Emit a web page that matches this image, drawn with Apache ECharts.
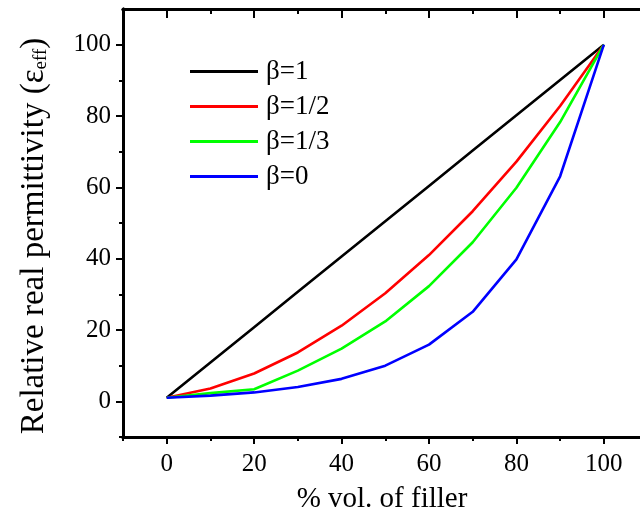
<!DOCTYPE html>
<html>
<head>
<meta charset="utf-8">
<script src="https://cdn.jsdelivr.net/npm/echarts@6/dist/echarts.min.js"></script>
<style>html,body{margin:0;padding:0;background:#fff}#c{width:640px;height:512px}</style>
</head>
<body>
<div id="c"></div>
<script>
const xValues = [0, 10, 20, 30, 40, 50, 60, 70, 80, 90, 100];
const beta1 = [1, 10.9, 20.8, 30.7, 40.6, 50.5, 60.4, 70.3, 80.2, 90.1, 100];
const betaHalf = [1, 3.6, 7.8, 13.7, 21.2, 30.3, 41, 53.3, 67.2, 82.8, 100];
const betaThird = [1, 2.3, 3.4, 8.6, 14.8, 22.4, 32.3, 44.6, 59.9, 78.3, 100];
const beta0 = [1, 1.6, 2.5, 4, 6.3, 10, 15.9, 25.1, 39.8, 63.1, 100];
const seriesNames = ['β=1', 'β=1/2', 'β=1/3', 'β=0'];
const seriesColors = ['#000000', '#ff0000', '#00ff00', '#0000ff'];
const xMajor = [0, 20, 40, 60, 80, 100];
const xMinor = [-10, 10, 30, 50, 70, 90];
const yMajor = [0, 20, 40, 60, 80, 100];
const yMinor = [-10, 10, 30, 50, 70, 90];

const FONT = 'Liberation Serif';
const allData = [beta1, betaHalf, betaThird, beta0];
const XMIN = -10, XMAX = 108.5, YMIN = -10, YMAX = 110;

function xAxisDef(pos, ticks, len, inside, labels, extra) {
  return Object.assign({
    type: 'value', position: pos, min: XMIN, max: XMAX,
    axisLine: { show: true, onZero: false, lineStyle: { color: '#000', width: 3 } },
    axisTick: { show: true, inside: inside, length: len, customValues: ticks, lineStyle: { color: '#000', width: 2 } },
    axisLabel: labels ? { show: true, customValues: xMajor, margin: 15, color: '#000', fontFamily: FONT, fontSize: 25 } : { show: false },
    splitLine: { show: false }
  }, extra || {});
}
function yAxisDef(pos, ticks, len, inside, labels, extra) {
  return Object.assign({
    type: 'value', position: pos, min: YMIN, max: YMAX,
    axisLine: { show: true, onZero: false, lineStyle: { color: '#000', width: 3 } },
    axisTick: { show: true, inside: inside, length: len, customValues: ticks, lineStyle: { color: '#000', width: 2 } },
    axisLabel: labels ? { show: true, customValues: yMajor, margin: 12, color: '#000', fontFamily: FONT, fontSize: 25 } : { show: false },
    splitLine: { show: false }
  }, extra || {});
}

const chart = echarts.init(document.getElementById('c'), null, { renderer: 'canvas' });
chart.setOption({
  animation: false,
  backgroundColor: '#fff',
  grid: { left: 123, top: 9, width: 518, height: 428, containLabel: false, outerBoundsMode: 'none' },
  legend: {
    orient: 'vertical', left: 185, top: 53,
    icon: 'rect', itemWidth: 68, itemHeight: 3, itemGap: 8,
    data: seriesNames,
    textStyle: { fontFamily: FONT, fontSize: 27, color: '#000', lineHeight: 26, padding: [0, 0, 0, 3] }
  },
  xAxis: [
    xAxisDef('bottom', xMajor, 7, false, true, {
      name: '% vol. of filler', nameLocation: 'middle', nameGap: 48,
      nameTextStyle: { fontFamily: FONT, fontSize: 29, color: '#000' }
    }),
    xAxisDef('bottom', xMinor, 4, false, false),
    xAxisDef('top', xMajor, 9, true, false),
    xAxisDef('top', xMinor, 5, true, false)
  ],
  yAxis: [
    yAxisDef('left', yMajor, 7, false, true, {
      name: 'Relative real permittivity (ε{sub|eff})', nameLocation: 'middle', nameGap: 72,
      nameTextStyle: { fontFamily: FONT, fontSize: 33, color: '#000', padding: [0, 26, 0, 0],
        rich: { sub: { fontFamily: FONT, fontSize: 19, color: '#000', verticalAlign: 'bottom', padding: [14, 0, 0, 0] } } }
    }),
    yAxisDef('left', yMinor, 4, false, false)
  ],
  series: seriesNames.map((n, i) => ({
    name: n, type: 'line', xAxisIndex: 0, yAxisIndex: 0,
    data: xValues.map((x, j) => [x, allData[i][j]]),
    showSymbol: false, symbol: 'none',
    lineStyle: { color: seriesColors[i], width: 2.6 },
    itemStyle: { color: seriesColors[i] }
  }))
});
</script>
</body>
</html>
